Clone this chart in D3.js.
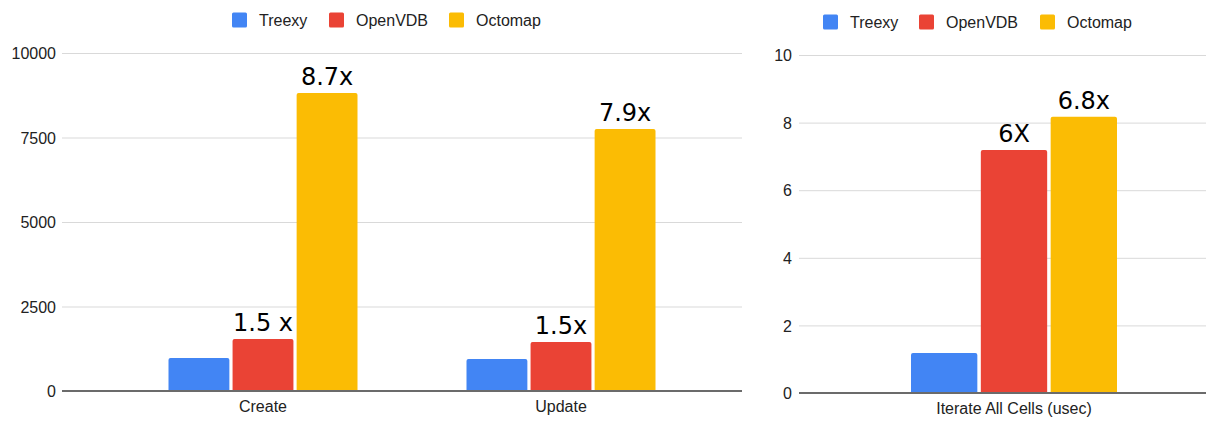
<!DOCTYPE html>
<html><head><meta charset="utf-8">
<script src="https://cdn.jsdelivr.net/npm/d3@7"></script>
<style>body{margin:0;background:#fff}svg{display:block}</style>
</head><body>
<script>
const series = ["Treexy", "OpenVDB", "Octomap"];
const colors = ["#4285F4", "#EA4335", "#FBBC04"];

const leftCategories = ["Create", "Update"];
const leftTreexy = [980, 950];
const leftOpenVDB = [1540, 1450];
const leftOctomap = [8820, 7750];
const leftLabels = [["", "1.5 x", "8.7x"], ["", "1.5x", "7.9x"]];
const leftTicks = [0, 2500, 5000, 7500, 10000];

const rightCategories = ["Iterate All Cells (usec)"];
const rightTreexy = [1.18];
const rightOpenVDB = [7.19];
const rightOctomap = [8.17];
const rightLabels = [["", "6X", "6.8x"]];
const rightTicks = [0, 2, 4, 6, 8, 10];

const W = 1206, H = 434;
const svg = d3.select("body").append("svg").attr("width", W).attr("height", H);

function drawChart(o) {
  const g = svg.append("g");
  const y = d3.scaleLinear().domain([0, o.max]).range([o.y0, o.y1]);
  g.selectAll("line.grid").data(o.ticks.filter(t => t !== 0)).join("line")
    .attr("x1", o.gx0).attr("x2", o.gx1)
    .attr("y1", d => y(d) + 0.5).attr("y2", d => y(d) + 0.5)
    .attr("stroke", "#d9d9d9").attr("stroke-width", 1);
  const yAxis = d3.axisLeft(y).tickValues(o.ticks).tickSize(0).tickPadding(0).tickFormat(d3.format("d"));
  const ax = g.append("g").attr("transform", `translate(${o.tickX},0)`).call(yAxis);
  ax.select(".domain").remove();
  ax.selectAll("text").attr("font-family", "Liberation Sans, Arial, sans-serif")
    .attr("font-size", 16).attr("fill", "#222").attr("dy", "0.35em");

  const x = d3.scaleBand().domain(o.cats).range([o.bx0, o.bx1]);
  const gw = o.groupW;
  const xs = d3.scaleBand().domain(series).range([0, gw]).paddingInner(0.05);
  const rows = o.cats.map((c, i) => ({ c, i, vals: o.vals.map(v => v[i]) }));
  const grp = g.selectAll("g.cat").data(rows).join("g")
    .attr("transform", d => `translate(${x(d.c) + x.bandwidth() / 2 - gw / 2},0)`);
  grp.selectAll("path.bar").data(d => d.vals.map((v, k) => ({ v, k }))).join("path")
    .attr("fill", d => colors[d.k])
    .attr("d", d => {
      const x0 = xs(series[d.k]), w = xs.bandwidth(), yt = y(d.v), yb = y(0), r = 2;
      return `M${x0},${yb}V${yt + r}Q${x0},${yt} ${x0 + r},${yt}H${x0 + w - r}Q${x0 + w},${yt} ${x0 + w},${yt + r}V${yb}Z`;
    });
  grp.selectAll("text.ann").data(d => d.vals.map((v, k) => ({ v, k, t: o.labels[d.i][k] })).filter(d => d.t)).join("text")
    .attr("x", d => xs(series[d.k]) + xs.bandwidth() / 2)
    .attr("y", d => y(d.v) - 8)
    .attr("text-anchor", "middle")
    .attr("font-family", "DejaVu Sans, sans-serif").attr("font-size", 24).attr("fill", "#000")
    .text(d => d.t);
  g.append("line").attr("x1", o.gx0).attr("x2", o.gx1).attr("y1", y(0)).attr("y2", y(0))
    .attr("stroke", "#6b6b6b").attr("stroke-width", 2);
  const xAxis = d3.axisBottom(x).tickSize(0).tickPadding(0);
  const xa = g.append("g").attr("transform", `translate(0,${o.y0 + 10})`).call(xAxis);
  xa.select(".domain").remove();
  xa.selectAll("text").attr("font-family", "Liberation Sans, Arial, sans-serif")
    .attr("font-size", 16).attr("fill", "#222").attr("dy", "0.71em");
  const lg = g.append("g");
  series.forEach((s, k) => {
    lg.append("rect").attr("x", o.legX[k]).attr("y", o.legY - 7.5).attr("width", 15).attr("height", 15)
      .attr("rx", 1.5).attr("fill", colors[k]);
    lg.append("text").attr("x", o.legX[k] + 27).attr("y", o.legY).attr("dy", "0.35em")
      .attr("font-family", "Liberation Sans, Arial, sans-serif").attr("font-size", 16).attr("fill", "#222")
      .text(s);
  });
}

drawChart({
  cats: leftCategories, vals: [leftTreexy, leftOpenVDB, leftOctomap], labels: leftLabels,
  ticks: leftTicks, max: 10000, y0: 391, y1: 53, gx0: 62, gx1: 742, tickX: 56,
  bx0: 114, bx1: 710, groupW: 189, legX: [232, 329, 449], legY: 20
});
drawChart({
  cats: rightCategories, vals: [rightTreexy, rightOpenVDB, rightOctomap], labels: rightLabels,
  ticks: rightTicks, max: 10, y0: 393, y1: 55, gx0: 799, gx1: 1206, tickX: 792,
  bx0: 822, bx1: 1206, groupW: 206, legX: [823, 919, 1040], legY: 22
});
</script>
</body></html>
